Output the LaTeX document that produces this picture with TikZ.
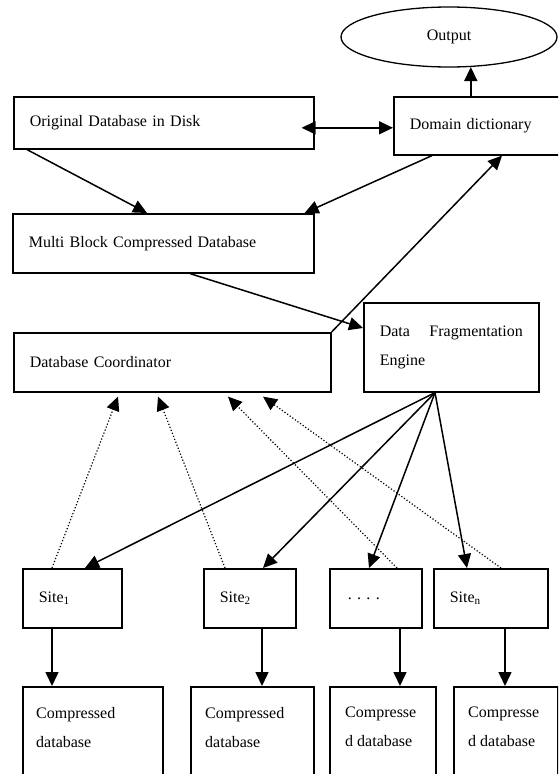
\documentclass[tikz,border=0pt]{standalone}
\usepackage{fontspec}
\setmainfont{Liberation Serif}
\usetikzlibrary{arrows.meta, positioning, shapes.geometric}

\begin{document}
\begin{tikzpicture}[x=1pt, y=-1pt,
		every node/.style={font=\fontsize{16pt}{29pt}\selectfont},
		box/.style={draw, line width=1.6pt, rectangle, anchor=north west, inner xsep=16pt, inner ysep=0pt, align=left},
		boxtxt/.style={inner sep=0pt, align=left},
		conn/.style={line width=1.5pt, -{Triangle[length=14pt, width=13pt]}},
		both/.style={conn, {Triangle[length=14pt, width=13pt]}-{Triangle[length=14pt, width=13pt]}},
		reply/.style={line width=1.2pt, dotted, -{Triangle[length=14pt, width=13pt]}}]
		\useasboundingbox (0,0) rectangle (558,774);
		\clip (0,0) rectangle (558,774);

		\node[draw, ellipse, line width=1.3pt, minimum width=216pt, minimum height=60pt] (out) at (449,37) {Output};
		\node[box, text width=268pt, minimum height=52pt] (orig) at (13,96) {Original Database in Disk};
		\node[box, text width=148pt, minimum height=58pt] (dict) at (393,96) {Domain dictionary};
		\node[box, text width=269pt, minimum height=59pt] (multi) at (12,213) {Multi Block Compressed Database};
		\node[box, text width=285pt, minimum height=59pt] (coord) at (13,332) {Database Coordinator};
		\node[box, text width=143pt, minimum height=89pt] (frag) at (363,302) {Data\hfill Fragmentation\\Engine};

		%sites
		\node[box, text width=67pt, minimum height=59pt] (s1) at (22,568) {Site\textsubscript{1}};
		\node[box, text width=60pt, minimum height=59pt] (s2) at (203,568) {Site\textsubscript{2}};
		\node[box, text width=60pt, minimum height=59pt] (s3) at (329,568) {\hspace{2pt}.\ .\ .\ .};
		\node[box, text width=82pt, minimum height=59pt] (s4) at (433,568) {Site\textsubscript{n}};

		%compressed databases
		\node[box, minimum width=140pt, minimum height=120pt] (c1) at (22,686) {};
		\node[box, minimum width=123pt, minimum height=120pt] (c2) at (190,686) {};
		\node[box, minimum width=106pt, minimum height=120pt] (c3) at (329,686) {};
		\node[box, minimum width=104pt, minimum height=120pt] (c4) at (453,686) {};
		\node[boxtxt, below right=21pt and 14pt of c1.north west] (c1t) {Compressed\\database};
		\node[boxtxt, below right=21pt and 15pt of c2.north west] (c2t) {Compressed\\database};
		\node[boxtxt, below right=21pt and 16pt of c3.north west] (c3t) {Compresse\\d database};
		\node[boxtxt, below right=21pt and 15pt of c4.north west] (c4t) {Compresse\\d database};

		\draw[conn] (dict.north -| out.306) -- (out.306);
		\draw[both] ([shift={(-13,5)}]orig.east) -- ([shift={(0,2)}]dict.west);
		\draw[conn] ([xshift=14pt]orig.south west) -- ([xshift=135pt]multi.north west);
		\draw[conn] ([xshift=39pt]dict.south west) -- ([xshift=-10pt]multi.north east);
		\draw[conn] (coord.north east) -- ([xshift=109pt]dict.south west);
		\draw[conn] ([xshift=178pt]multi.south west) -- ([yshift=-26pt]frag.north west);

		%fragments out to the sites
		\coordinate (fan) at ([xshift=72pt]frag.south west);
		\foreach \s/\d in {s1/63, s2/60, s3/40, s4/34}
			\draw[conn] (fan) -- ([xshift=\d pt]\s.north west);

		%sites back to the coordinator
		\foreach \s/\a/\b in {s1/30/105, s2/22/145, s3/68/215, s4/68/250}
			\draw[reply] ([xshift=\a pt]\s.north west) -- ([shift={(\b,4)}]coord.south west);

		\foreach \s/\c/\a/\b in {s1/c1/30/30, s2/c2/59/72, s3/c3/71/71, s4/c4/72/52}
			\draw[conn] ([xshift=\a pt]\s.south west) -- ([xshift=\b pt]\c.north west);
\end{tikzpicture}
\end{document}
